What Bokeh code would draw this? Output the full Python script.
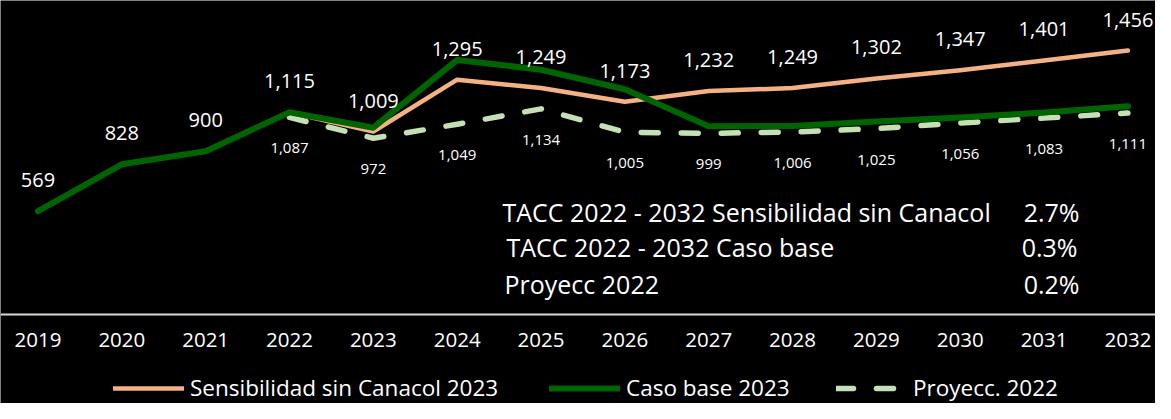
from bokeh.plotting import figure
from bokeh.models import ColumnDataSource, LinearAxis, FixedTicker, Legend, LegendItem, Label, Range1d
from bokeh.core.properties import value
from bokeh.embed import file_html
from bokeh.resources import INLINE

# ---- data ----
years = [2019, 2020, 2021, 2022, 2023, 2024, 2025, 2026, 2027, 2028, 2029, 2030, 2031, 2032]
sensibilidad = [569, 828, 900, 1115, 1009, 1295, 1249, 1173, 1232, 1249, 1302, 1347, 1401, 1456]
caso_base = [569, 828, 900, 1115, 1030, 1404, 1350, 1242, 1038, 1040, 1064, 1086, 1114, 1148]
proy_years = [2022, 2023, 2024, 2025, 2026, 2027, 2028, 2029, 2030, 2031, 2032]
proyecc = [1087, 972, 1049, 1134, 1005, 999, 1006, 1025, 1056, 1083, 1111]

series_names = ["Sensibilidad sin Canacol 2023", "Caso base 2023", "Proyecc. 2022"]
tacc_rows = ["TACC 2022 - 2032  Sensibilidad sin Canacol", "TACC 2022 - 2032  Caso base", "Proyecc 2022"]
tacc_vals = ["2.7%", "0.3%", "0.2%"]

ORANGE = "#F4B183"
GREEN = "#006400"
LIGHT = "#C5E0B4"
FONT = "Open Sans"

W, H = 1155, 403
p = figure(width=W, height=H, output_backend="svg", toolbar_location=None,
           x_range=Range1d(2018.553, 2032.329), y_range=Range1d(-492.1, 1732.0),
           x_axis_location=None, y_axis_location=None,
           background_fill_color="black", border_fill_color="black",
           min_border=0, outline_line_color=None)
p.xgrid.visible = False
p.ygrid.visible = False

s_src = ColumnDataSource(dict(x=years, y=sensibilidad, lbl=[f"{v:,}" for v in sensibilidad]))
c_src = ColumnDataSource(dict(x=years, y=caso_base))
p_src = ColumnDataSource(dict(x=proy_years, y=proyecc, lbl=[f"{v:,}" for v in proyecc]))

r_s = p.line("x", "y", source=s_src, line_color=ORANGE, line_width=4.5, line_join="round", line_cap="round")
r_p = p.line("x", "y", source=p_src, line_color=LIGHT, line_width=5.5, line_dash="17 23",
             line_join="round", line_cap="round")
r_c = p.line("x", "y", source=c_src, line_color=GREEN, line_width=6, line_join="round", line_cap="round")

p.text("x", "y", text="lbl", source=s_src, y_offset=-31, text_align="center", text_baseline="middle",
       text_color="white", text_font=value(FONT), text_font_size="20px")
p.text("x", "y", text="lbl", source=p_src, y_offset=31, text_align="center", text_baseline="middle",
       text_color="white", text_font=value(FONT), text_font_size="15px")

ax = LinearAxis(fixed_location=0, ticker=FixedTicker(ticks=years))
ax.axis_line_color = "#D9D9D9"
ax.axis_line_width = 2
ax.major_tick_line_color = None
ax.minor_tick_line_color = None
ax.major_tick_out = 0
ax.major_tick_in = 0
ax.major_label_standoff = 19
ax.major_label_text_color = "white"
ax.major_label_text_font = FONT
ax.major_label_text_font_size = "20.5px"
p.add_layout(ax, "below")

# TACC block
row_x = [502, 506, 504]
row_y = [192, 157, 120]
val_x = [1079, 1077, 1079]
for t, x, y in zip(tacc_rows, row_x, row_y):
    p.add_layout(Label(x=x, y=y, x_units="screen", y_units="screen", text=t, text_color="white",
                       text_font=FONT, text_font_size="25px", text_baseline="middle", text_align="left"))
for t, x, y in zip(tacc_vals, val_x, row_y):
    p.add_layout(Label(x=x, y=y, x_units="screen", y_units="screen", text=t, text_color="white",
                       text_font=FONT, text_font_size="25px", text_baseline="middle", text_align="right"))

# legends
for name, r, lx in zip(series_names, [r_s, r_c, r_p], [113, 549, 836]):
    lg = Legend(items=[LegendItem(label=name, renderers=[r])], location=(lx, 0),
                orientation="horizontal", padding=0, margin=0, spacing=0,
                glyph_width=71, label_standoff=6, border_line_color=None,
                background_fill_alpha=0, label_text_color="white",
                label_text_font=FONT, label_text_font_size="22.5px")
    p.add_layout(lg, "center")

open("out.html", "w").write(file_html(p, INLINE))
